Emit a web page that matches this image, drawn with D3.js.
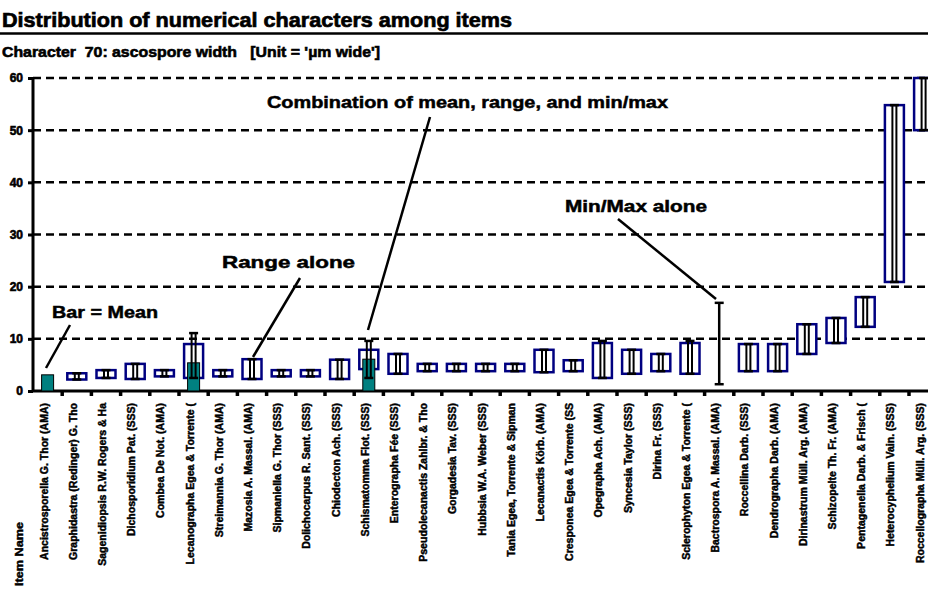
<!DOCTYPE html>
<html><head><meta charset="utf-8">
<script src="https://cdn.jsdelivr.net/npm/d3@7"></script>
<style>body{margin:0;background:#fff;overflow:hidden}svg{display:block}</style>
</head><body><svg id="c" width="928" height="591"></svg>
<script>
const chartTitle = "Distribution of numerical characters among items";
const chartSubtitle = "Character  70: ascospore width   [Unit = 'µm wide']";
const axisTitle = "Item Name";
const categories = [
  "Ancistrosporella G. Thor (AMA)",
  "Graphidastra (Redinger) G. Tho",
  "Sagenidiopsis R.W. Rogers & Ha",
  "Dichosporidium Pat. (SSS)",
  "Combea De Not. (AMA)",
  "Lecanographa Egea & Torrente (",
  "Streimannia G. Thor (AMA)",
  "Mazosia A. Massal. (AMA)",
  "Sipmaniella G. Thor (SSS)",
  "Dolichocarpus R. Sant. (SSS)",
  "Chiodecton Ach. (SSS)",
  "Schismatomma Flot. (SSS)",
  "Enterographa Fée (SSS)",
  "Pseudolecanactis Zahlbr. & Tho",
  "Gorgadesia Tav. (SSS)",
  "Hubbsia W.A. Weber (SSS)",
  "Tania Egea, Torrente & Sipman",
  "Lecanactis Körb. (AMA)",
  "Cresponea Egea & Torrente (SS",
  "Opegrapha Ach. (AMA)",
  "Syncesia Taylor (SSS)",
  "Dirina Fr. (SSS)",
  "Sclerophyton Egea & Torrente (",
  "Bactrospora A. Massal. (AMA)",
  "Roccellina Darb. (SSS)",
  "Dendrographa Darb. (AMA)",
  "Dirinastrum Müll. Arg. (AMA)",
  "Schizopelte Th. Fr. (AMA)",
  "Pentagenella Darb. & Frisch (",
  "Heterocyphelium Vain. (SSS)",
  "Roccellographa Müll. Arg. (SSS)"
];
const meanValues = [3.1,null,null,null,null,5.4,null,null,null,null,null,6.1,null,null,null,null,null,null,null,null,null,null,null,null,null,null,null,null,null,null,null];
const rangeMin = [null,2.2,2.5,2.3,2.8,2.5,2.8,2.3,2.8,2.8,2.3,4.2,3.3,3.8,3.8,3.8,3.8,3.6,3.8,2.5,3.3,3.8,3.3,null,3.8,3.8,7.1,9.2,12.3,20.9,50.0];
const rangeMax = [null,3.4,4.0,5.2,4.0,9.0,4.0,6.1,4.0,4.0,6.0,7.9,7.1,5.2,5.2,5.2,5.2,7.9,5.9,9.2,7.9,7.1,9.2,null,9.0,9.0,12.8,14.0,18.0,54.8,60.0];
const minValues = [null,2.2,2.5,2.3,2.8,2.5,2.8,2.3,2.8,2.8,2.3,2.5,3.3,3.8,3.8,3.8,3.8,3.6,3.8,2.5,3.3,3.8,3.3,1.3,3.8,3.8,7.1,9.2,12.3,20.9,50.0];
const maxValues = [null,3.4,4.0,5.2,4.0,11.1,4.0,6.1,4.0,4.0,6.0,9.6,7.1,5.2,5.2,5.2,5.2,7.9,5.9,9.6,7.9,7.1,9.6,16.9,9.0,9.0,12.8,14.0,18.0,54.8,60.0];
const yTicks = [0,10,20,30,40,50,60];
const annotationTexts = ["Bar = Mean","Range alone","Combination of mean, range, and min/max","Min/Max alone"];

const svg = d3.select("#c");
const NAVY = "#000080", TEAL = "#008080";
const bandW = 29.2;
const x = d3.scaleBand().domain(categories).range([33, 33 + categories.length*bandW]).padding(0);
const y = d3.scaleLinear().domain([0,60]).range([391,78]);
const cx = c => x(c) + x.bandwidth()/2;
const FONT = "'Liberation Sans', Arial, sans-serif";

// title
svg.append("text").attr("x",2).attr("y",27).attr("font-family",FONT).attr("font-weight","bold")
  .attr("font-size",21).attr("textLength",510).attr("lengthAdjust","spacingAndGlyphs")
  .attr("stroke","#000").attr("stroke-width",0.7).text(chartTitle);
svg.append("line").attr("x1",0).attr("x2",928).attr("y1",33.5).attr("y2",33.5).attr("stroke","#000").attr("stroke-width",2.5);
svg.append("text").attr("x",2).attr("y",57).attr("font-family",FONT).attr("font-weight","bold")
  .attr("font-size",15).attr("textLength",378).attr("lengthAdjust","spacingAndGlyphs")
  .attr("stroke","#000").attr("stroke-width",0.6).style("white-space","pre").text(chartSubtitle);

// gridlines
svg.append("g").selectAll("line").data(yTicks.filter(t=>t>0)).join("line")
  .attr("x1",33).attr("x2",928).attr("y1",d=>y(d)).attr("y2",d=>y(d))
  .attr("stroke","#000").attr("stroke-width",2.5).attr("stroke-dasharray","8,5");

// y axis
const ya = svg.append("g").attr("transform","translate(33,0)")
  .call(d3.axisLeft(y).tickValues(yTicks).tickSize(5).tickPadding(5));
ya.select(".domain").attr("stroke-width",3).attr("d","M0,"+y(60)+"V"+y(0));
ya.selectAll(".tick line").attr("stroke-width",3);
ya.selectAll(".tick text").attr("font-family",FONT).attr("font-weight","bold").attr("font-size",12)
  .attr("stroke","#000").attr("stroke-width",0.6);

// x axis
const xa = svg.append("g").attr("transform","translate(0,391)")
  .call(d3.axisBottom(x).tickSize(0).tickFormat(""));
xa.select(".domain").attr("stroke-width",3).attr("d","M33,0H928");
svg.append("g").selectAll("line").data(categories).join("line")
  .attr("x1",d=>x(d)+x.bandwidth()).attr("x2",d=>x(d)+x.bandwidth())
  .attr("y1",391).attr("y2",396).attr("stroke","#000").attr("stroke-width",3.5);

// x labels
svg.append("g").selectAll("text").data(categories).join("text")
  .attr("transform",d=>`translate(${cx(d)},403) rotate(-90)`)
  .attr("text-anchor","end").attr("font-family",FONT).attr("font-weight","bold")
  .attr("font-size",10.5).attr("stroke","#000").attr("stroke-width",0.45).text(d=>d);
svg.append("text").attr("transform","translate(23,522) rotate(-90)").attr("text-anchor","end")
  .attr("font-family",FONT).attr("font-weight","bold").attr("font-size",11)
  .attr("stroke","#000").attr("stroke-width",0.45)
  .attr("textLength",64).attr("lengthAdjust","spacingAndGlyphs").text(axisTitle);

const idx = categories.map((c,i)=>i);
const boxW = 19, barW = 12;
// range boxes
svg.append("g").selectAll("rect").data(idx.filter(i=>rangeMin[i]!=null)).join("rect")
  .attr("x",i=>cx(categories[i])-boxW/2).attr("width",boxW)
  .attr("y",i=>y(rangeMax[i])).attr("height",i=>y(rangeMin[i])-y(rangeMax[i]))
  .attr("fill","#fff").attr("stroke",NAVY).attr("stroke-width",2.5);
// mean bars
svg.append("g").selectAll("rect").data(idx.filter(i=>meanValues[i]!=null)).join("rect")
  .attr("x",i=>cx(categories[i])-barW/2).attr("width",barW)
  .attr("y",i=>y(meanValues[i])).attr("height",i=>y(0)-y(meanValues[i]))
  .attr("fill",TEAL).attr("stroke","#000").attr("stroke-width",1);
// min/max bars
const mm = svg.append("g").selectAll("g").data(idx.filter(i=>minValues[i]!=null)).join("g");
mm.each(function(i){
  const g = d3.select(this), c = cx(categories[i]);
  const offs = rangeMin[i]!=null ? [-2,2] : [0];
  const sw = rangeMin[i]!=null ? 2 : 2.5;
  offs.forEach(o=>g.append("line").attr("x1",c+o).attr("x2",c+o).attr("y1",y(maxValues[i])).attr("y2",y(minValues[i]))
    .attr("stroke","#000").attr("stroke-width",sw));
  [minValues[i],maxValues[i]].forEach(v=>g.append("line").attr("x1",c-4.5).attr("x2",c+4.5)
    .attr("y1",y(v)).attr("y2",y(v)).attr("stroke","#000").attr("stroke-width",2.5));
});

// annotations
const ann = [
  {t:0,x:52,y:318,w:106,l:[70,325,46,368]},
  {t:1,x:222,y:268,w:133,l:[300,278,253,357]},
  {t:2,x:267,y:108,w:401,l:[430,117,368,330]},
  {t:3,x:565,y:212,w:142,l:[618,219,716,299]}
];
ann.forEach(a=>{
  svg.append("text").attr("x",a.x).attr("y",a.y).attr("font-family",FONT).attr("font-weight","bold")
    .attr("font-size",17).attr("textLength",a.w).attr("lengthAdjust","spacingAndGlyphs")
    .attr("stroke","#000").attr("stroke-width",0.5).text(annotationTexts[a.t]);
  svg.append("line").attr("x1",a.l[0]).attr("y1",a.l[1]).attr("x2",a.l[2]).attr("y2",a.l[3])
    .attr("stroke","#000").attr("stroke-width",2.5);
});
</script></body></html>
